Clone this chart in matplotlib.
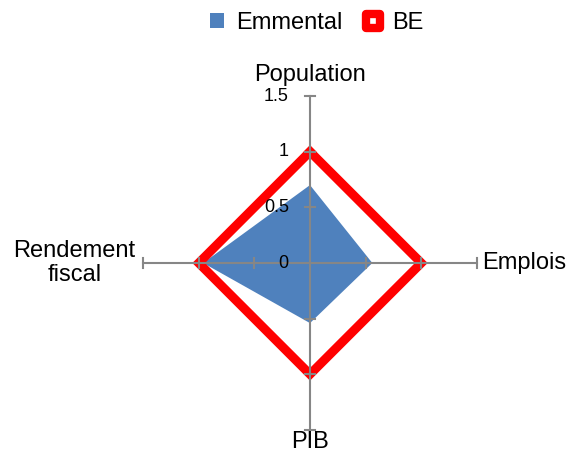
import numpy as np
import matplotlib.pyplot as plt
from matplotlib.patches import Patch
from matplotlib.lines import Line2D
from matplotlib.markers import MarkerStyle

plt.rcParams['font.family'] = ['Liberation Sans', 'DejaVu Sans']

categories = ['Population', 'Emplois', 'PIB', 'Rendement\nfiscal']
emmental = [0.70, 0.56, 0.54, 0.96]
be = [1, 1, 1, 1]
ticks = [0, 0.5, 1, 1.5]
tick_labels = ['0', '0.5', '1', '1.5']

# clockwise from the top, like Excel
angles = np.deg2rad(90 - 90 * np.arange(len(categories)))


def to_xy(vals):
    vals = np.asarray(vals, dtype=float)
    x = vals * np.cos(angles)
    y = vals * np.sin(angles)
    return np.append(x, x[0]), np.append(y, y[0])


fig = plt.figure(figsize=(5.7, 4.57), dpi=100)
ax = fig.add_axes([0, 0, 1, 1])
unit = 111.3
cx, cy = 310, 263
ax.set_xlim(-cx / unit, (570 - cx) / unit)
ax.set_ylim(-(457 - cy) / unit, cy / unit)
ax.axis('off')

grey = '#868686'

# series
ex, ey = to_xy(emmental)
ax.fill(ex, ey, color='#4F81BD', zorder=1, lw=0)
bx, by = to_xy(be)
ax.plot(bx, by, color='#FF0000', lw=6.5, zorder=2, solid_joinstyle='miter')

# spokes with tick marks
rmax = ticks[-1]
tl = 0.045
for a in angles:
    c, s = np.cos(a), np.sin(a)
    ax.plot([0, rmax * c], [0, rmax * s], color=grey, lw=1.5, zorder=3)
    for t in ticks[1:]:
        px, py = t * c, t * s
        ax.plot([px - tl * s, px + tl * s], [py + tl * c, py - tl * c],
                color=grey, lw=1.5, zorder=3)

# value labels along the top spoke
for t, lab in zip(ticks, tick_labels):
    ax.text(-0.19, t, lab, ha='right', va='center', fontsize=13, zorder=4)

# category labels
ax.text(0, 1.69, categories[0], ha='center', va='center', fontsize=17)
ax.text(1.55, 0, categories[1], ha='left', va='center', fontsize=17)
ax.text(0, -1.61, categories[2], ha='center', va='center', fontsize=17)
ax.text(-1.57, 0, categories[3], ha='right', va='center', fontsize=17,
        multialignment='center', linespacing=1.15)

handles = [
    Patch(facecolor='#4F81BD', edgecolor='none'),
    Line2D([], [], color='none', marker=MarkerStyle('s', joinstyle='round'),
           markersize=10, markerfacecolor='white', markeredgecolor='#FF0000',
           markeredgewidth=6),
]
fig.legend(handles, ['Emmental', 'BE'], loc='upper center', ncol=2,
           frameon=False, fontsize=17, bbox_to_anchor=(0.555, 1.02),
           handlelength=0.6, handleheight=0.6, handletextpad=0.5,
           columnspacing=1.0)

fig.savefig('out.png', dpi=100)
